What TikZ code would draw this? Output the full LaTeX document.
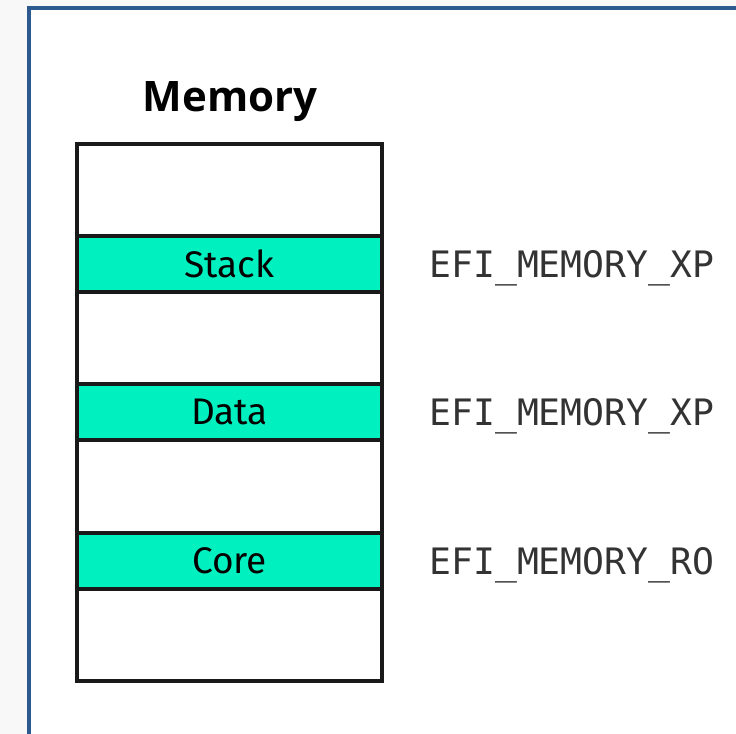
\documentclass[tikz,border=0pt]{standalone}
\usepackage{fontspec}
\setmainfont{Fira Sans}
\newfontfamily\titolofont{Open Sans}
\setmonofont{DejaVu Sans Mono}
\usetikzlibrary{positioning}
\definecolor{cornice}{HTML}{2D5A8E}
\definecolor{verdeacqua}{HTML}{00F0C0}
\definecolor{sfondo}{HTML}{F8F8F8}
\definecolor{grigiotesto}{HTML}{333333}

\begin{document}
\begin{tikzpicture}[x=0.5pt, y=-0.5pt,
                % Stile delle fasce colorate dentro la memoria
                banda/.style={
                    draw=black!90,
                    fill=verdeacqua,
                    line width=2pt,
                    minimum width=152.5pt,
                    minimum height=28pt,
                    inner sep=0pt,
                    font=\fontsize{18.5}{22}\selectfont
                },
                % Stile per i nomi degli attributi a destra
                etichetta/.style={
                    anchor=west,
                    inner sep=0pt,
                    yshift=-2pt,
                    text=grigiotesto,
                    font=\ttfamily\fontsize{18.2}{22}\selectfont
                }
            ]

                % 1. Sfondo e cornice blu
                \fill [sfondo] (0,0) rectangle (736,734);
                \useasboundingbox (0,0) rectangle (736,734);
                \draw [cornice, line width=2pt, fill=white] (29,8) rectangle (745,745);

                % 2. Titolo e blocco della memoria
                \node [font=\titolofont\bfseries\fontsize{21}{25}\selectfont] (titolo) at (230,102) {Memory};
                \node [draw=black!90, line width=2pt, minimum width=152.5pt, minimum height=268.5pt, inner sep=0pt] (memoria) at (229.5,412.5) {};

                % 3. Fasce: Stack, Data, Core
                \node [banda] (stack) at (229.5,264) {Stack};
                \node [banda] (data) at (229.5,412) {Data};
                \node [banda] (core) at (229.5,561) {Core};

                % 4. Attributi a destra di ogni fascia
                \node [etichetta, right=22.5pt of stack] (attrstack) {EFI\_MEMORY\_XP};
                \node [etichetta, right=22.5pt of data] (attrdata) {EFI\_MEMORY\_XP};
                \node [etichetta, right=22.5pt of core] (attrcore) {EFI\_MEMORY\_RO};

            \end{tikzpicture}
\end{document}
